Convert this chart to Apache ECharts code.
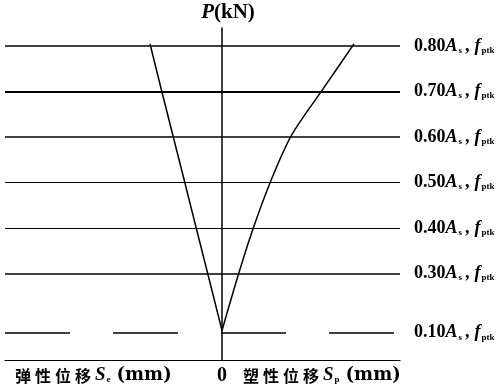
<!DOCTYPE html>
<html>
<head>
<meta charset="utf-8">
<script src="https://cdn.jsdelivr.net/npm/echarts@6/dist/echarts.min.js"></script>
<style>html,body{margin:0;padding:0;background:#fff}#c{width:500px;height:390px}</style>
</head>
<body>
<div id="c"></div>
<script>
// load levels (fraction of A_s f_ptk)
const levels = [0.1, 0.3, 0.4, 0.5, 0.6, 0.7, 0.8];
const levelLabels = ['0.10', '0.30', '0.40', '0.50', '0.60', '0.70', '0.80'];
// elastic displacement (left, negative side) at each level
const elasticX = [0, -1.48, -2.63, -3.77, -4.92, -6.07, -7.2];
// plastic displacement (right side) at each level
const plasticX = [0, 1.73, 3.2, 4.9, 6.97, 10.07, 13.2];

// schematic vertical scale: the part below 0.30 is drawn compressed
const lowScale = 0.648;
function toPos(p) { return p < 0.3 ? p * lowScale : 0.3 * lowScale + (p - 0.3); }

const serif = 'Liberation Serif';
const cjk = 'Noto Sans CJK SC';

const widths = [1.5, 1.5, 1, 1, 1.5, 2, 1.5];

const rich = {
  n: { fontFamily: serif, fontSize: 18, fontWeight: 'bold', color: '#000', lineHeight: 22 },
  i: { fontFamily: serif, fontSize: 18, fontWeight: 'bold', fontStyle: 'italic', color: '#000', lineHeight: 22 },
  s: { fontFamily: serif, fontSize: 9, fontWeight: 'bold', color: '#000', lineHeight: 22, padding: [9, 1, 0, 1] },
  cm: { fontFamily: serif, fontSize: 18, fontWeight: 'bold', color: '#000', lineHeight: 22, padding: [0, 5, 0, 2] },
  pn: { fontFamily: serif, fontSize: 21, fontWeight: 'bold', color: '#000', lineHeight: 24 },
  pi: { fontFamily: serif, fontSize: 21, fontWeight: 'bold', fontStyle: 'italic', color: '#000', lineHeight: 24 },
  c: { fontFamily: cjk, fontSize: 16, fontWeight: 'bold', color: '#000', lineHeight: 22, padding: [0, 4, 0, 0] },
  bi: { fontFamily: serif, fontSize: 19, fontWeight: 'bold', fontStyle: 'italic', color: '#000', lineHeight: 22 },
  bs: { fontFamily: serif, fontSize: 9, fontWeight: 'bold', color: '#000', lineHeight: 22, padding: [9, 2, 0, 1] },
  mm: { fontFamily: 'DejaVu Serif', fontSize: 18, fontWeight: 'bold', color: '#000', lineHeight: 22, padding: [0, 0, 0, 4] }
};

const markData = levels.map((p, k) => ({
  yAxis: toPos(p),
  lineStyle: {
    width: widths[k],
    type: p === 0.1 ? [65, 43] : 'solid',
    color: '#000'
  },
  label: {
    formatter: '{n|' + levelLabels[k] + '}{i|A}{s|s}{cm|,}{i|f}{s|ptk}'
  }
}));

const chart = echarts.init(document.getElementById('c'));
chart.setOption({
  animation: false,
  grid: { left: 5, right: 100, top: 28, bottom: 30 },
  xAxis: {
    type: 'value', min: -21.7, max: 17.8,
    splitLine: { show: false },
    axisTick: { show: false },
    axisLine: { onZero: false, lineStyle: { color: '#000', width: 1.2 } },
    axisLabel: { customValues: [0], fontFamily: serif, fontWeight: 'bold', fontSize: 20, color: '#000', margin: 6 }
  },
  yAxis: {
    type: 'value', min: 0, max: toPos(0.835),
    name: '{pi|P}{pn|(kN)}',
    nameLocation: 'end', nameGap: 3,
    nameTextStyle: { rich: rich, padding: [0, 0, 0, 12] },
    splitLine: { show: false },
    axisTick: { show: false },
    axisLabel: { show: false },
    axisLine: { onZero: true, lineStyle: { color: '#000', width: 1.5 } }
  },
  series: [
    {
      type: 'line', name: 'elastic',
      data: levels.map((p, k) => [elasticX[k], toPos(p)]),
      symbol: 'none',
      lineStyle: { color: '#000', width: 1.5 },
      markLine: {
        silent: true, symbol: 'none',
        data: markData,
        label: { position: 'end', distance: 14, rich: rich }
      }
    },
    {
      type: 'line', name: 'plastic',
      data: levels.map((p, k) => [plasticX[k], toPos(p)]),
      symbol: 'none', smooth: 0.3,
      lineStyle: { color: '#000', width: 1.5 }
    }
  ],
  graphic: [
    {
      type: 'text', left: 15, top: 366,
      style: { text: '{c|弹}{c|性}{c|位}{c|移}{bi|S}{bs|e}{mm|(mm)}', rich: rich }
    },
    {
      type: 'text', left: 243, top: 366,
      style: { text: '{c|塑}{c|性}{c|位}{c|移}{bi|S}{bs|p}{mm|(mm)}', rich: rich }
    }
  ]
});
</script>
</body>
</html>
